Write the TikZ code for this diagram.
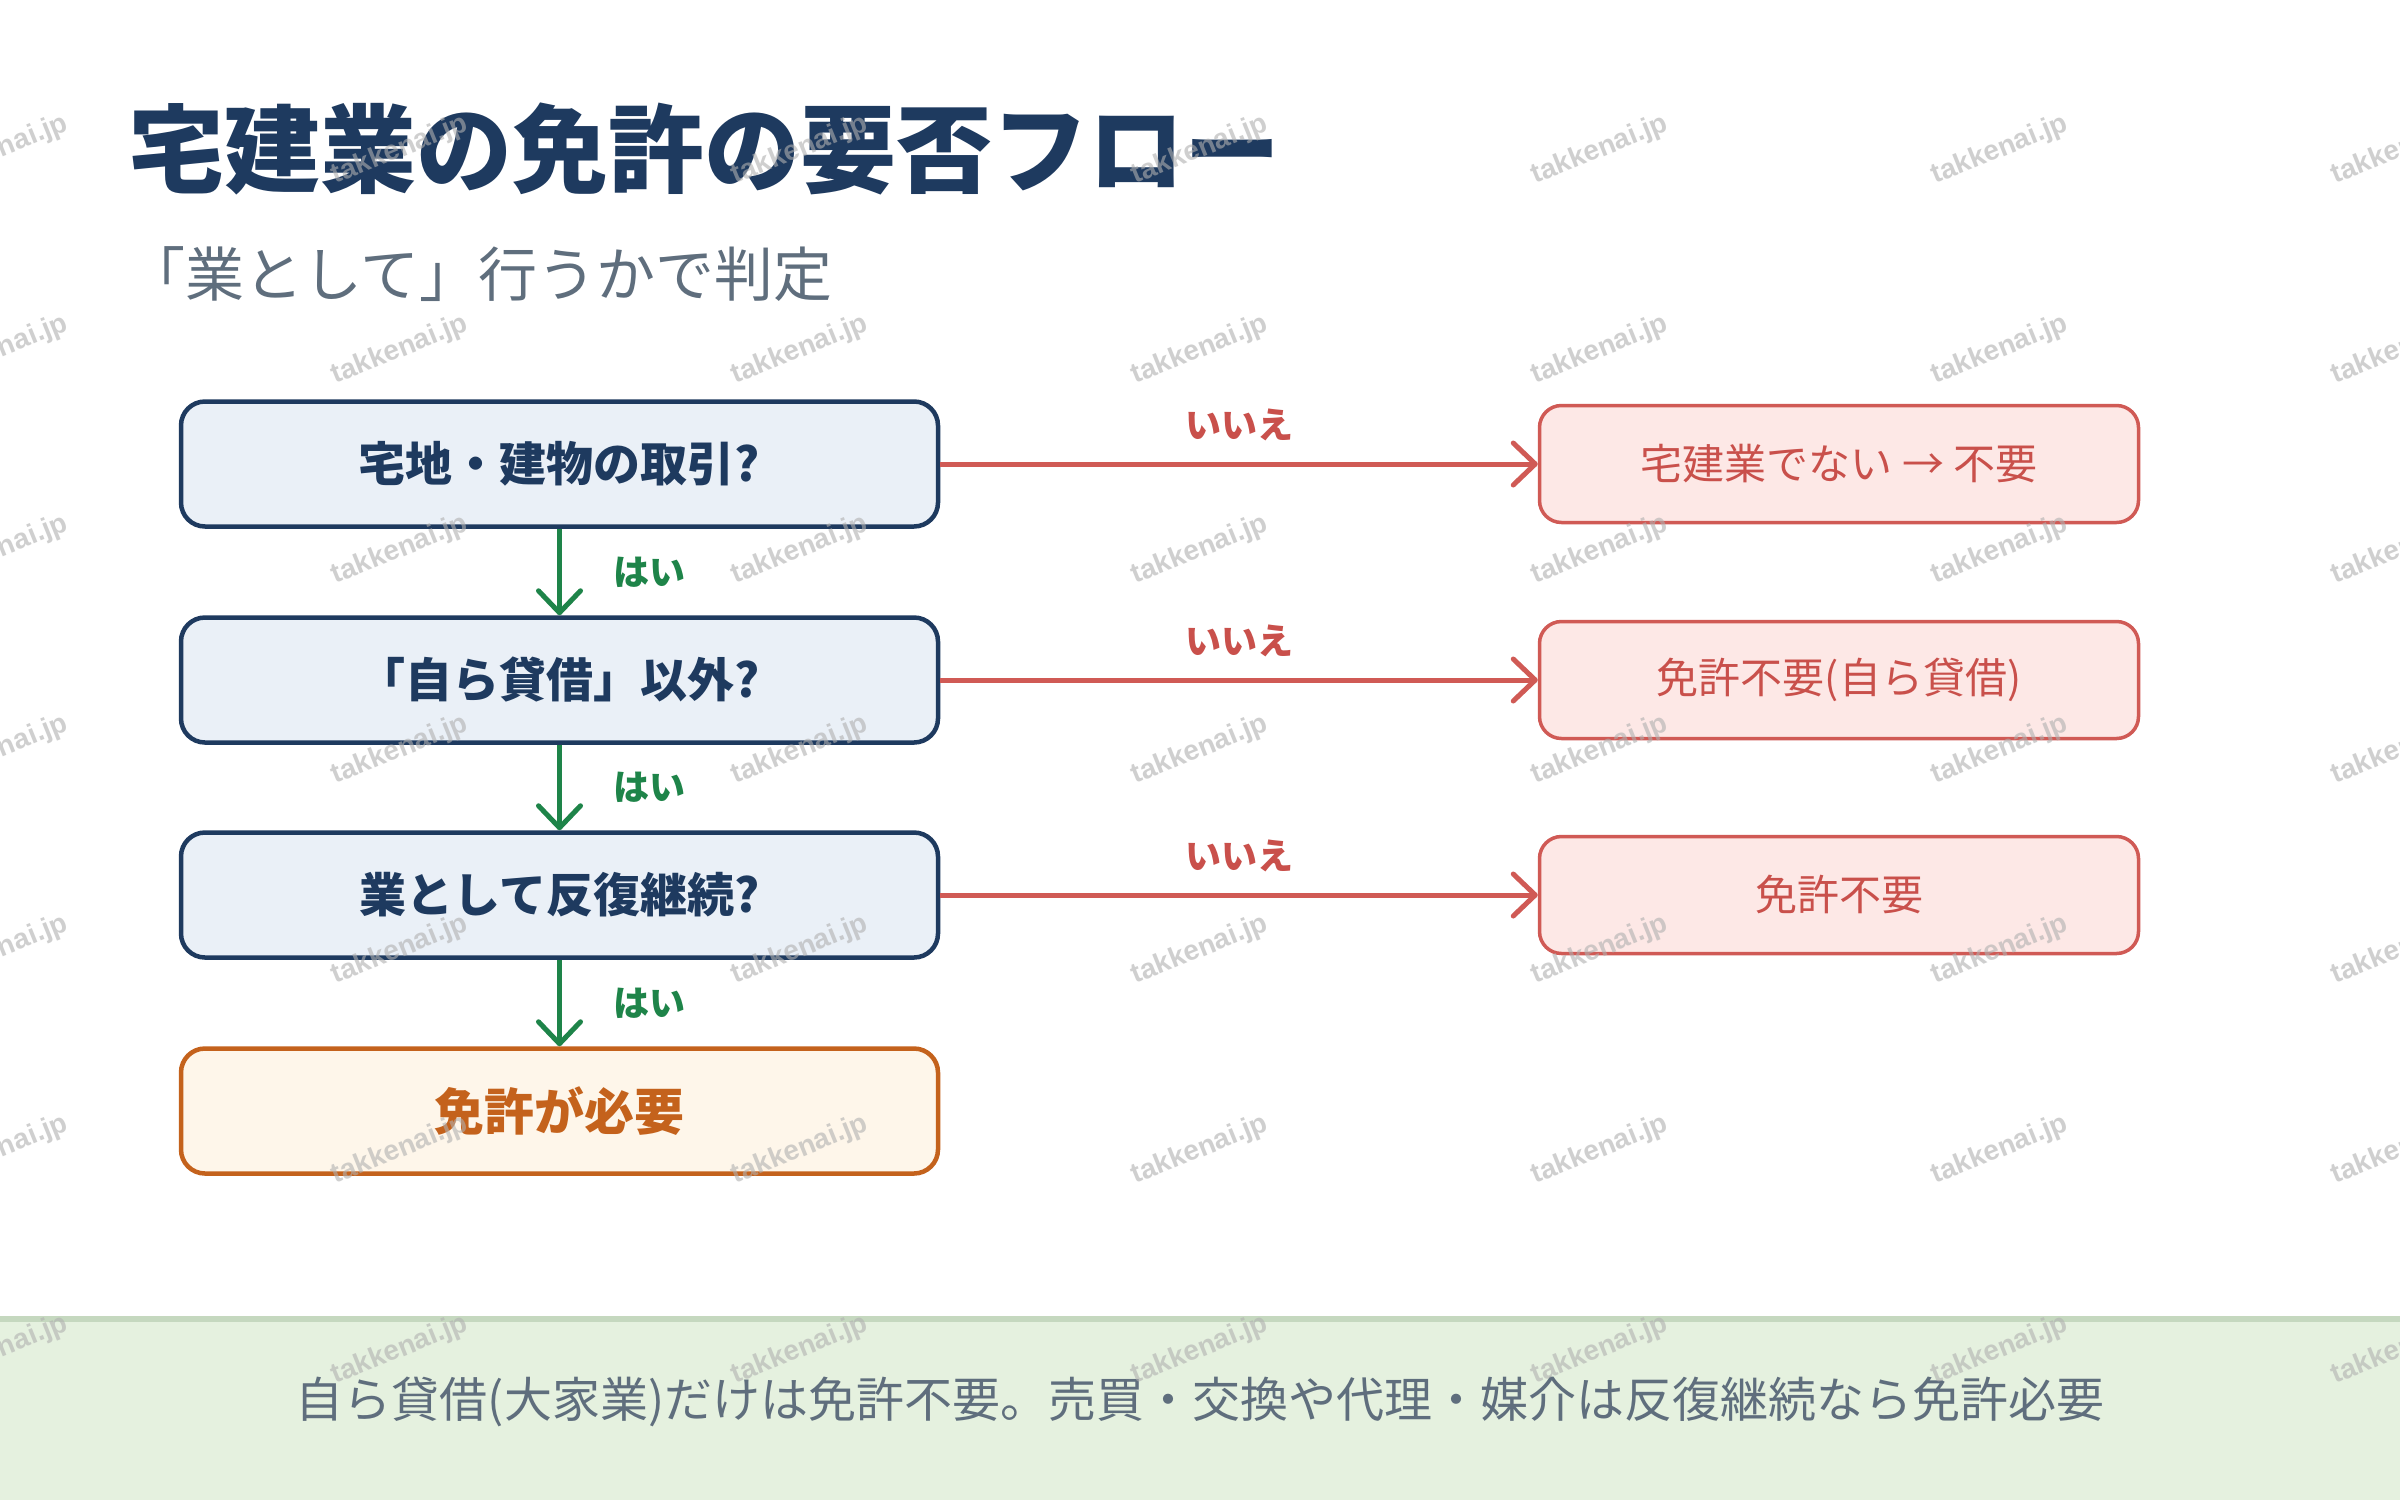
\documentclass[tikz,border=0pt]{standalone}
\usepackage{fontspec}
\setmainfont{Noto Sans CJK JP}
\newfontfamily\wmfont{Liberation Sans}
\usetikzlibrary{arrows.meta}
\definecolor{navy}{HTML}{1E3A5F}
\definecolor{navyfill}{HTML}{EAF0F7}
\definecolor{redline}{HTML}{D05A55}
\definecolor{redtext}{HTML}{C9504B}
\definecolor{redfill}{HTML}{FDE8E6}
\definecolor{grn}{HTML}{1E8449}
\definecolor{orng}{HTML}{C4621C}
\definecolor{orngfill}{HTML}{FEF6EA}
\definecolor{subgray}{HTML}{5F6E7D}
\definecolor{footfill}{HTML}{E5F1DF}
\definecolor{footline}{HTML}{C5D8BF}
\definecolor{wmgray}{HTML}{B0B0B0}
\begin{document}
\begin{tikzpicture}[x=1pt,y=-1pt,
  qbox/.style={draw=navy, line width=4.5pt, fill=navyfill, rounded corners=24pt,
    minimum width=757pt, minimum height=125pt, inner sep=0pt,
    font=\fontsize{47}{56}\selectfont\bfseries, text=navy},
  obox/.style={qbox, draw=orng, fill=orngfill, text=orng,
    font=\fontsize{50}{60}\selectfont\bfseries},
  rbox/.style={draw=redline, line width=3.5pt, fill=redfill, rounded corners=22pt,
    minimum width=599pt, minimum height=117pt, inner sep=0pt,
    font=\fontsize{42}{50}\selectfont, text=redtext},
  tip/.style={-{Straight Barb[length=22pt,width=42pt,line cap=round,line join=round]}},
  noarrow/.style={tip, draw=redline, line width=5pt},
  yesarrow/.style={tip, draw=grn, line width=5pt},
  nolabel/.style={font=\fontsize{36}{44}\selectfont\bfseries, text=redtext, inner sep=0pt},
  yeslabel/.style={font=\fontsize{36}{44}\selectfont\bfseries, text=grn, inner sep=0pt},
  wm/.style={font=\wmfont\bfseries\fontsize{28}{34}\selectfont, text=wmgray, text opacity=0.6, rotate=22, inner sep=0pt}
]
\useasboundingbox (0,0) rectangle (2400,1500);
\fill[white] (0,0) rectangle (2400,1500);

% title
\node[anchor=base west, inner sep=0pt, font=\fontsize{96}{112}\selectfont\bfseries, text=navy] (title) at (128,185) {宅建業の免許の要否フロー};
\node[anchor=base west, inner sep=0pt, font=\fontsize{59}{70}\selectfont, text=subgray] (subtitle) at (126,296) {「業として」行うかで判定};

% question boxes
\node[qbox] (q1) at (559.5,464) {宅地・建物の取引?};
\node[qbox] (q2) at (559.5,680) {「自ら貸借」以外?};
\node[qbox] (q3) at (559.5,895) {業として反復継続?};
\node[obox] (res) at (559.5,1111) {免許が必要};

% no-result boxes
\node[rbox] (n1) at (1839,464) {宅建業でない → 不要};
\node[rbox] (n2) at (1839,680) {免許不要(自ら貸借)};
\node[rbox] (n3) at (1839,895) {免許不要};

% arrows
\draw[noarrow] (q1.east) -- (n1.west) node[midway, yshift=39pt, nolabel] (l1) {いいえ};
\draw[noarrow] (q2.east) -- (n2.west) node[midway, yshift=39pt, nolabel] (l2) {いいえ};
\draw[noarrow] (q3.east) -- (n3.west) node[midway, yshift=39pt, nolabel] (l3) {いいえ};
\draw[yesarrow] (q1.south) -- (q2.north) node[midway, xshift=90pt, yeslabel] (y1) {はい};
\draw[yesarrow] (q2.south) -- (q3.north) node[midway, xshift=90pt, yeslabel] (y2) {はい};
\draw[yesarrow] (q3.south) -- (res.north) node[midway, xshift=90pt, yeslabel] (y3) {はい};

% footer
\fill[footfill] (0,1316) rectangle (2400,1500);
\fill[footline] (0,1316) rectangle (2400,1322);
\node[font=\fontsize{48}{56}\selectfont, text=subgray, inner sep=0pt] (foot) at (1200,1402) {自ら貸借(大家業)だけは免許不要。売買・交換や代理・媒介は反復継続なら免許必要};

% watermarks
\foreach \i in {0,...,6} {
  \foreach \j in {0,...,6} {
    \node[wm] (wm\i\j) at ({400*\i},{150+200*\j}) {takkenai.jp};
  }
}
\end{tikzpicture}
\end{document}
